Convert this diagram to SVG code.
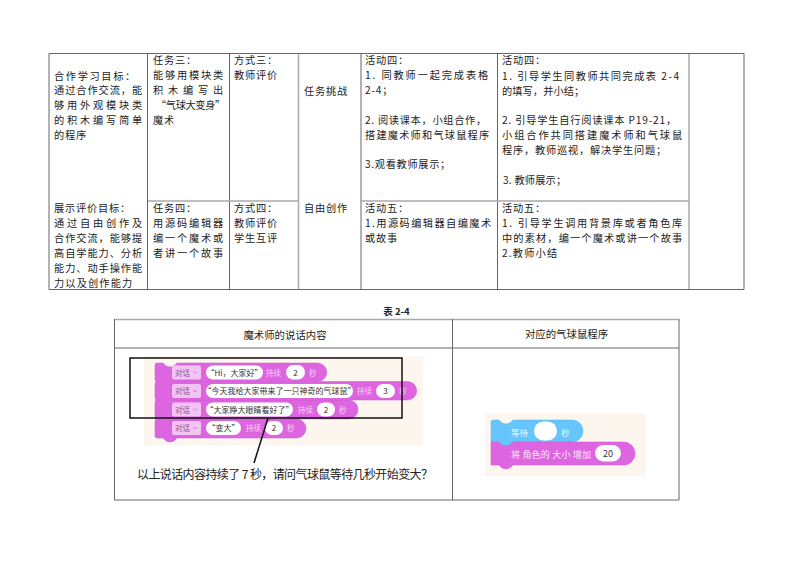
<svg xmlns="http://www.w3.org/2000/svg" width="794" height="561" viewBox="0 0 794 561">
<style>
text{font-family:"Noto Sans CJK SC","Noto Sans",sans-serif;fill:#222}
.t text{font-size:10.2px;letter-spacing:.8px}
.d{stroke:#666;stroke-width:1;fill:none}
.l{stroke:#aaa;stroke-width:1.5;fill:none}
.p{fill:#dd66e0;stroke:#cc55d0;stroke-width:.5}
.b{fill:#66c6fb;stroke:#55b5ea;stroke-width:.5}
.dd{fill:#f3c3f4}
.w{fill:#fff}
.s{font-size:7.500px;fill:#8b4f90}
.f{font-size:7.500px;fill:#f8d0f8}
.k{font-size:8px;fill:#333;text-anchor:middle}
.c{text-anchor:middle}
.v{fill:none;stroke:#b070b8;stroke-width:.7}
</style>
<defs><path id="chev" class="v" d="M0 0l2 2 2-2"/></defs>
<rect width="794" height="561" fill="#fff"/>
<g id="table-1">
<path class="d" d="M49 53.500H744V289.500H49Z"/>
<path class="d" d="M147.500 53V290M229.500 53V290M361 53V290M497.500 53V290"/>
<path class="l" d="M298.500 54V289M689 54V289M148 201H298M361 201H689"/>
</g>
<g id="table-1-text" class="t">
<text x="54" y="80" textLength="82" lengthAdjust="spacing">合作学习目标：</text>
<text x="54" y="94" textLength="89" lengthAdjust="spacing">通过合作交流，能</text>
<text x="54" y="109" textLength="89" lengthAdjust="spacing">够用外观模块类</text>
<text x="54" y="124" textLength="89" lengthAdjust="spacing">的积木编写简单</text>
<text x="54" y="139">的程序</text>
<text x="153" y="64">任务三：</text>
<text x="153" y="79" textLength="71" lengthAdjust="spacing">能够用模块类</text>
<text x="153" y="94" textLength="71" lengthAdjust="spacing">积木编写出</text>
<text x="156" y="109" textLength="70" lengthAdjust="spacing">“气球大变身”</text>
<text x="153" y="124">魔术</text>
<text x="234" y="64">方式三：</text>
<text x="234" y="79">教师评价</text>
<text x="326" y="95" class="c">任务挑战</text>
<text x="365" y="64">活动四：</text>
<text x="365" y="79" textLength="124" lengthAdjust="spacing">1. 同教师一起完成表格</text>
<text x="365" y="94">2-4；</text>
<text x="365" y="124" textLength="122" lengthAdjust="spacing">2. 阅读课本，小组合作，</text>
<text x="365" y="139" textLength="125" lengthAdjust="spacing">搭建魔术师和气球鼠程序</text>
<text x="365" y="168" textLength="86" lengthAdjust="spacing">3.观看教师展示；</text>
<text x="502" y="64">活动四：</text>
<text x="502" y="80" textLength="178" lengthAdjust="spacing">1. 引导学生同教师共同完成表 2-4</text>
<text x="502" y="95" textLength="83" lengthAdjust="spacing">的填写，并小结；</text>
<text x="502" y="124" textLength="175" lengthAdjust="spacing">2. 引导学生自行阅读课本 P19-21，</text>
<text x="502" y="139" textLength="181" lengthAdjust="spacing">小组合作共同搭建魔术师和气球鼠</text>
<text x="502" y="154" textLength="165" lengthAdjust="spacing">程序，教师巡视，解决学生问题；</text>
<text x="503" y="184" textLength="64" lengthAdjust="spacing">3. 教师展示；</text>
<text x="54" y="212">展示评价目标：</text>
<text x="54" y="227" textLength="89" lengthAdjust="spacing">通过自由创作及</text>
<text x="54" y="242" textLength="89" lengthAdjust="spacing">合作交流，能够提</text>
<text x="54" y="257" textLength="89" lengthAdjust="spacing">高自学能力、分析</text>
<text x="54" y="272" textLength="89" lengthAdjust="spacing">能力、动手操作能</text>
<text x="54" y="287" textLength="79" lengthAdjust="spacing">力以及创作能力</text>
<text x="153" y="212">任务四：</text>
<text x="153" y="227" textLength="71" lengthAdjust="spacing">用源码编辑器</text>
<text x="153" y="242" textLength="71" lengthAdjust="spacing">编一个魔术或</text>
<text x="153" y="257" textLength="71" lengthAdjust="spacing">者讲一个故事</text>
<text x="234" y="212">方式四：</text>
<text x="234" y="227">教师评价</text>
<text x="234" y="242">学生互评</text>
<text x="326" y="212" class="c">自由创作</text>
<text x="365" y="212">活动五：</text>
<text x="365" y="227" textLength="127" lengthAdjust="spacing">1.用源码编辑器自编魔术</text>
<text x="365" y="242">或故事</text>
<text x="502" y="212">活动五：</text>
<text x="502" y="227" textLength="181" lengthAdjust="spacing">1. 引导学生调用背景库或者角色库</text>
<text x="502" y="242" textLength="181" lengthAdjust="spacing">中的素材，编一个魔术或讲一个故事</text>
<text x="502" y="257" textLength="56" lengthAdjust="spacing">2.教师小结</text>
</g>
<g id="caption"><text x="396.500" y="315" class="c" font-size="9.500" font-weight="700">表 2-4</text></g>
<g id="table-2">
<path class="l" d="M115 319.500H679" stroke-width="1.200"/>
<path class="d" d="M114.500 319V500H679V319M114.500 348H679M452.500 319V500"/>
<text x="285" y="338.500" class="c" font-size="10.400">魔术师的说话内容</text>
<text x="566.500" y="338" class="c" font-size="10.400">对应的气球鼠程序</text>
</g>
<g id="magician-blocks">
<rect x="144" y="356" width="279" height="89" fill="#fdf6ee"/>
<path class="p" d="M157 419h6q3 4 7 4t7-4H296.500a9.500 9.500 0 0 1 0 19H177q-3 4-7 4t-7-4h-6q-2 0-2-2V421q0-2 2-2z"/>
<path class="p" d="M157 400h6q3 4 7 4t7-4H348.500a9.500 9.500 0 0 1 0 19H177q-3 4-7 4t-7-4h-6q-2 0-2-2V402q0-2 2-2z"/>
<path class="p" d="M157 381.500h6q3 4 7 4t7-4H407.500a9.250 9.250 0 0 1 0 18.500H177q-3 4-7 4t-7-4h-6q-2 0-2-2V383.500q0-2 2-2z"/>
<path class="p" d="M157 363h6q3 4 7 4t7-4H317.500a9.250 9.250 0 0 1 0 18.500H177q-3 4-7 4t-7-4h-6q-2 0-2-2V365q0-2 2-2z"/>
<g id="say-1">
<rect class="dd" x="172" y="365.500" width="29" height="14" rx="2"/><text x="175" y="375.500" class="s">对话</text><use href="#chev" x="193" y="371.500"/>
<rect class="w" x="206" y="365.500" width="57" height="14" rx="7"/><text x="234.500" y="375.500" class="k">“Hi，大家好”</text>
<text x="266" y="375.500" class="f">持续</text>
<rect class="w" x="286" y="365" width="19" height="14.500" rx="7.200"/><text x="295.500" y="375.500" class="k">2</text>
<text x="309" y="375.500" class="f">秒</text>
</g>
<g id="say-2">
<rect class="dd" x="172" y="384" width="29" height="14" rx="2"/><text x="175" y="394" class="s">对话</text><use href="#chev" x="193" y="390"/>
<rect class="w" x="206" y="384" width="147" height="14" rx="7"/><text x="279.500" y="394" class="k">“今天我给大家带来了一只神奇的气球鼠”</text>
<text x="357" y="394" class="f">持续</text>
<rect class="w" x="376" y="384" width="19" height="14" rx="7"/><text x="385.500" y="394" class="k">3</text>
<text x="399" y="394" class="f">秒</text>
</g>
<g id="say-3">
<rect class="dd" x="172" y="402.500" width="29" height="14" rx="2"/><text x="175" y="412.500" class="s">对话</text><use href="#chev" x="193" y="408.500"/>
<rect class="w" x="206" y="402.500" width="87" height="14" rx="7"/><text x="249.500" y="412.500" class="k">“大家睁大眼睛看好了”</text>
<text x="298" y="412.500" class="f">持续</text>
<rect class="w" x="317" y="402.500" width="18" height="14" rx="7"/><text x="326" y="412.500" class="k">2</text>
<text x="339" y="412.500" class="f">秒</text>
</g>
<g id="say-4">
<rect class="dd" x="172" y="421" width="29" height="14" rx="2"/><text x="175" y="431" class="s">对话</text><use href="#chev" x="193" y="427"/>
<rect class="w" x="206" y="421" width="35" height="14" rx="7"/><text x="223.500" y="431" class="k">“变大”</text>
<text x="246" y="431" class="f">持续</text>
<rect class="w" x="265" y="421" width="18" height="14" rx="7"/><text x="274" y="431" class="k">2</text>
<text x="287" y="431" class="f">秒</text>
</g>
</g>
<g id="highlight-box"><rect x="130" y="358" width="272" height="60" fill="none" stroke="#111" stroke-width="1.500"/></g>
<g id="connectors"><path d="M268 418L254 463" fill="none" stroke="#111" stroke-width="1.500"/></g>
<g id="question"><text x="137" y="478.500" font-size="12" textLength="296" lengthAdjust="spacing">以上说话内容持续了 7 秒，请问气球鼠等待几秒开始变大？</text></g>
<g id="balloon-blocks">
<rect x="485" y="413" width="161" height="63" fill="#fdf6ee"/>
<path class="b" d="M493 420h6q3 4 7 4t7-4H572a11 11 0 0 1 0 22H513q-3 4-7 4t-7-4h-8V422q0-2 2-2z"/>
<path class="p" d="M491 442h8q3 4 7 4t7-4H623.500a11.500 11.500 0 0 1 0 23H513q-3 4-7 4t-7-4h-8z"/>
<text x="511" y="436" font-size="8.500" style="fill:#eef8ff">等待</text>
<rect class="w" x="534" y="421.500" width="23" height="19" rx="9.500"/>
<text x="561" y="436" font-size="8.500" style="fill:#eef8ff">秒</text>
<text x="511" y="458" font-size="9" textLength="80" lengthAdjust="spacing" style="fill:#fbe6fb">将 角色的 大小 增加</text>
<rect class="w" x="595" y="445" width="26" height="16.500" rx="8.200"/>
<text x="608" y="457" class="c" font-size="9" style="fill:#333">20</text>
</g>
</svg>
